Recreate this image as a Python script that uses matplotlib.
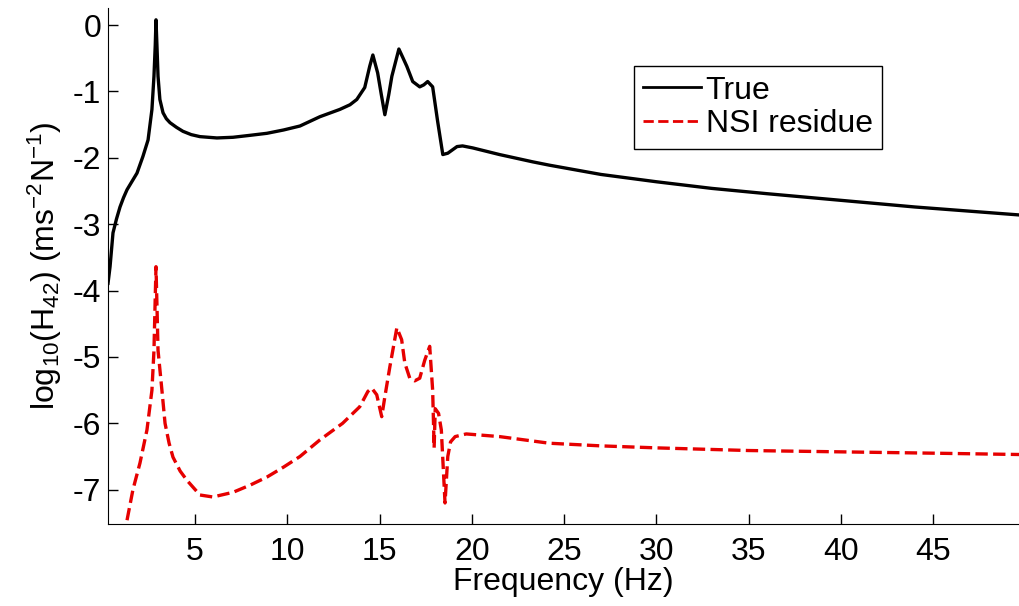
import matplotlib
matplotlib.use('Agg')
import matplotlib.pyplot as plt

# True response (Hz, log10 magnitude)
true_f = [0.29, 0.40, 0.56, 0.75, 0.94, 1.13, 1.32, 1.60, 1.86, 2.18, 2.46, 2.67, 2.78, 2.85,
          2.89, 2.94, 3.00, 3.10, 3.27, 3.45, 3.65, 4.00, 4.35, 4.80, 5.27, 6.19, 7.06, 8.00,
          8.90, 9.80, 10.69, 11.77, 12.85, 13.40, 13.77, 14.20, 14.47, 14.64, 14.90, 15.10,
          15.29, 15.50, 15.67, 16.05, 16.25, 16.48, 16.80, 17.18, 17.40, 17.61, 17.88, 18.15,
          18.43, 18.70, 19.20, 19.50, 20.05, 21.50, 23.30, 24.20, 27.00, 30.00, 33.00, 36.00,
          40.00, 44.00, 49.65]
true_h = [-3.89, -3.64, -3.13, -2.92, -2.74, -2.60, -2.48, -2.35, -2.23, -1.98, -1.73, -1.27,
          -0.77, -0.30, 0.08, -0.30, -0.77, -1.12, -1.32, -1.41, -1.47, -1.54, -1.60, -1.65,
          -1.68, -1.70, -1.69, -1.66, -1.63, -1.58, -1.52, -1.38, -1.27, -1.20, -1.12, -0.94,
          -0.62, -0.45, -0.72, -1.05, -1.35, -1.05, -0.77, -0.36, -0.48, -0.62, -0.85, -0.93,
          -0.90, -0.85, -0.93, -1.45, -1.95, -1.93, -1.83, -1.82, -1.85, -1.95, -2.06, -2.11,
          -2.25, -2.36, -2.46, -2.54, -2.64, -2.74, -2.86]

# NSI residue
nsi_f = [1.32, 1.64, 2.02, 2.40, 2.67, 2.78, 2.84, 2.89, 2.94, 3.00, 3.21, 3.38, 3.60, 3.81,
         4.20, 4.57, 5.27, 5.97, 7.06, 8.00, 8.90, 9.80, 10.69, 11.77, 13.00, 13.93, 14.37,
         14.58, 14.85, 15.12, 15.29, 15.56, 15.94, 16.20, 16.37, 16.64, 16.91, 17.18, 17.45,
         17.72, 17.88, 17.96, 18.02, 18.20, 18.35, 18.55, 18.70, 18.85, 19.10, 19.70, 21.50,
         24.20, 27.00, 30.00, 35.00, 40.00, 45.00, 49.65]
nsi_h = [-7.46, -7.00, -6.60, -6.10, -5.50, -4.90, -4.20, -3.64, -4.20, -4.90, -5.50, -6.00,
         -6.30, -6.51, -6.72, -6.86, -7.08, -7.11, -7.04, -6.93, -6.81, -6.66, -6.50, -6.25,
         -6.00, -5.75, -5.52, -5.47, -5.57, -5.90, -5.60, -5.15, -4.56, -4.74, -5.09, -5.32,
         -5.36, -5.32, -5.05, -4.84, -5.50, -6.37, -5.78, -5.85, -6.10, -7.20, -6.50, -6.28,
         -6.20, -6.16, -6.20, -6.30, -6.34, -6.37, -6.41, -6.43, -6.45, -6.47]

plt.rcParams['font.family'] = ['Liberation Sans', 'DejaVu Sans']
plt.rcParams['mathtext.fontset'] = 'custom'
plt.rcParams['mathtext.rm'] = 'Liberation Sans'
plt.rcParams['mathtext.it'] = 'Liberation Sans'
plt.rcParams['axes.unicode_minus'] = False

fig = plt.figure(figsize=(10.19, 6.06), dpi=100)
ax = fig.add_axes([0.106, 0.135, 0.894, 0.852])

ax.plot(true_f, true_h, color='black', linewidth=2.4, label='True')
ax.plot(nsi_f, nsi_h, color='#e60000', linewidth=2.4, linestyle='--', label='NSI residue')

ax.set_xlim(0.29, 49.65)
ax.set_ylim(-7.52, 0.26)
ax.set_xticks([5, 10, 15, 20, 25, 30, 35, 40, 45])
ax.set_yticks([-7, -6, -5, -4, -3, -2, -1, 0])

ax.spines['top'].set_visible(False)
ax.spines['right'].set_visible(False)
ax.tick_params(direction='in', length=7, width=1, labelsize=23)
ax.tick_params(axis='x', pad=9)
ax.tick_params(axis='y', pad=5)

ax.set_xlabel('Frequency (Hz)', fontsize=23, labelpad=0)
ax.set_ylabel(r'log$_{10}$(H$_{42}$) (ms$^{-2}$N$^{-1}$)', fontsize=23, labelpad=6)

leg = ax.legend(loc='upper left', bbox_to_anchor=(0.622, 0.891), bbox_transform=fig.transFigure,
                fontsize=23, fancybox=False, edgecolor='black', framealpha=1,
                handlelength=1.8, handletextpad=0.15, borderpad=0.3, labelspacing=0.12,
                borderaxespad=0)
leg.get_frame().set_linewidth(1.0)
for h in leg.get_lines():
    h.set_linewidth(2.0)

plt.savefig("out.png", dpi=100)
